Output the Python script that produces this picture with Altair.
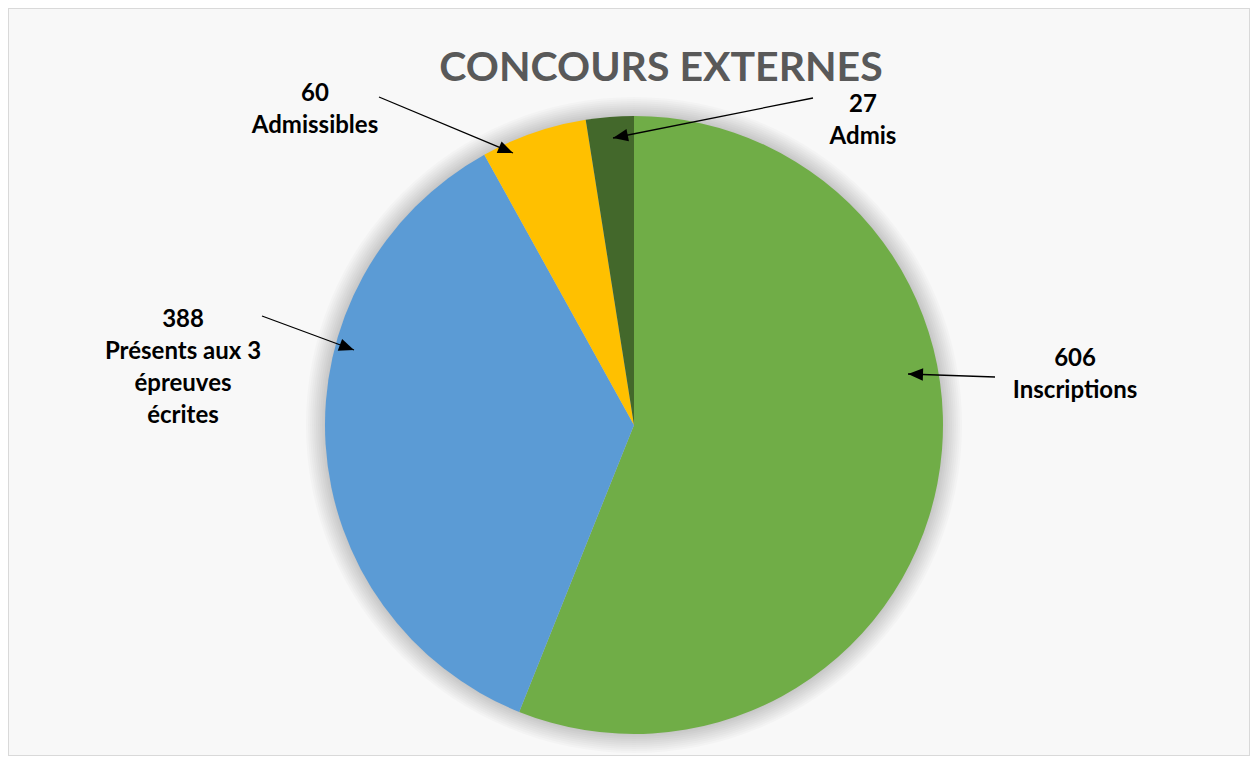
import math
import altair as alt
import pandas as pd

# ---- data ----
categories = ["Inscriptions", "Présents aux 3 épreuves écrites", "Admissibles", "Admis"]
values = [606, 388, 60, 27]
label_lines = [["Inscriptions"], ["Présents aux 3", "épreuves", "écrites"], ["Admissibles"], ["Admis"]]
title_text = "CONCOURS EXTERNES"

# ---- style / layout (page pixel coordinates) ----
colors = ["#70AD47", "#5B9BD5", "#FFC000", "#43682B"]
BG = "#F8F8F8"
W, H = 1242, 748
X0, Y0 = 8, 8
CX, CY, R = 634, 425, 309
TITLE_X, TITLE_Y = 661, 81
label_anchor = [(1075, 366), (183, 327), (315, 101), (863, 112)]  # center x, first baseline
arrow_start = [(995, 377), (262, 316), (379, 97), (813, 98)]
arrow_tip = [(908, 374), (354, 350), (513, 153), (613, 138)]
LINE_H = 32
FONT = "Lato"

xscale = alt.Scale(domain=[X0, X0 + W], nice=False, zero=False)
yscale = alt.Scale(domain=[Y0, Y0 + H], nice=False, zero=False, reverse=True)

pie_df = pd.DataFrame({"category": categories, "value": values, "idx": list(range(len(values)))})

# soft shadow around the pie (one full-circle arc per ring)
glow_layers = [
    alt.Chart(pie_df.head(1)).mark_arc(
        theta=0, theta2=2 * math.pi, radius=R + 1 + 2 * i, color="#000000", opacity=0.02
    ).encode(x=alt.value(CX - X0), y=alt.value(CY - Y0))
    for i in range(10)
]

pie = alt.Chart(pie_df).mark_arc(radius=R).encode(
    x=alt.value(CX - X0), y=alt.value(CY - Y0),
    theta=alt.Theta("value:Q", stack=True),
    order=alt.Order("idx:Q"),
    color=alt.Color("category:N", scale=alt.Scale(domain=categories, range=colors), legend=None),
)

# arrows
arr_rows = []
for (sx, sy), (tx, ty) in zip(arrow_start, arrow_tip):
    ang = math.degrees(math.atan2(tx - sx, -(ty - sy))) % 360
    arr_rows.append({"x0": sx, "y0": sy, "x1": tx, "y1": ty, "ang": ang})
arr_df = pd.DataFrame(arr_rows)

rules = alt.Chart(arr_df).mark_rule(color="black", strokeWidth=1.3).encode(
    x=alt.X("x0:Q", scale=xscale, axis=None),
    y=alt.Y("y0:Q", scale=yscale, axis=None),
    x2="x1:Q", y2="y1:Q",
)
heads = alt.Chart(arr_df).mark_point(
    shape="M0,0 L-0.42,1 L0.42,1 Z", filled=True, color="black", opacity=1, size=900, strokeWidth=0
).encode(
    x=alt.X("x1:Q", scale=xscale, axis=None),
    y=alt.Y("y1:Q", scale=yscale, axis=None),
    angle=alt.Angle("ang:Q", scale=None),
)

# labels
lab_rows = []
for v, lines, (lx, ly) in zip(values, label_lines, label_anchor):
    for i, t in enumerate([str(v)] + lines):
        lab_rows.append({"tx": lx, "ty": ly + i * LINE_H, "text": t})
lab_df = pd.DataFrame(lab_rows)
labels = alt.Chart(lab_df).mark_text(
    font=FONT, fontWeight="bold", fontSize=24, color="black", align="center", baseline="alphabetic"
).encode(
    x=alt.X("tx:Q", scale=xscale, axis=None),
    y=alt.Y("ty:Q", scale=yscale, axis=None),
    text="text:N",
)

title_df = pd.DataFrame({"tx": [TITLE_X], "ty": [TITLE_Y], "text": [title_text]})
title = alt.Chart(title_df).mark_text(
    font=FONT, fontWeight="bold", fontSize=41, color="#595959", align="center", baseline="alphabetic"
).encode(
    x=alt.X("tx:Q", scale=xscale, axis=None),
    y=alt.Y("ty:Q", scale=yscale, axis=None),
    text="text:N",
)

chart = alt.layer(*glow_layers, pie, rules, heads, labels, title).properties(
    width=W, height=H,
    autosize=alt.AutoSizeParams(type="none"),
    padding=0,
    background=BG,
).configure_view(stroke="#D9D9D9", strokeWidth=2, fill=BG)

chart.save("out.html", embed_options={"renderer": "svg", "actions": False})
